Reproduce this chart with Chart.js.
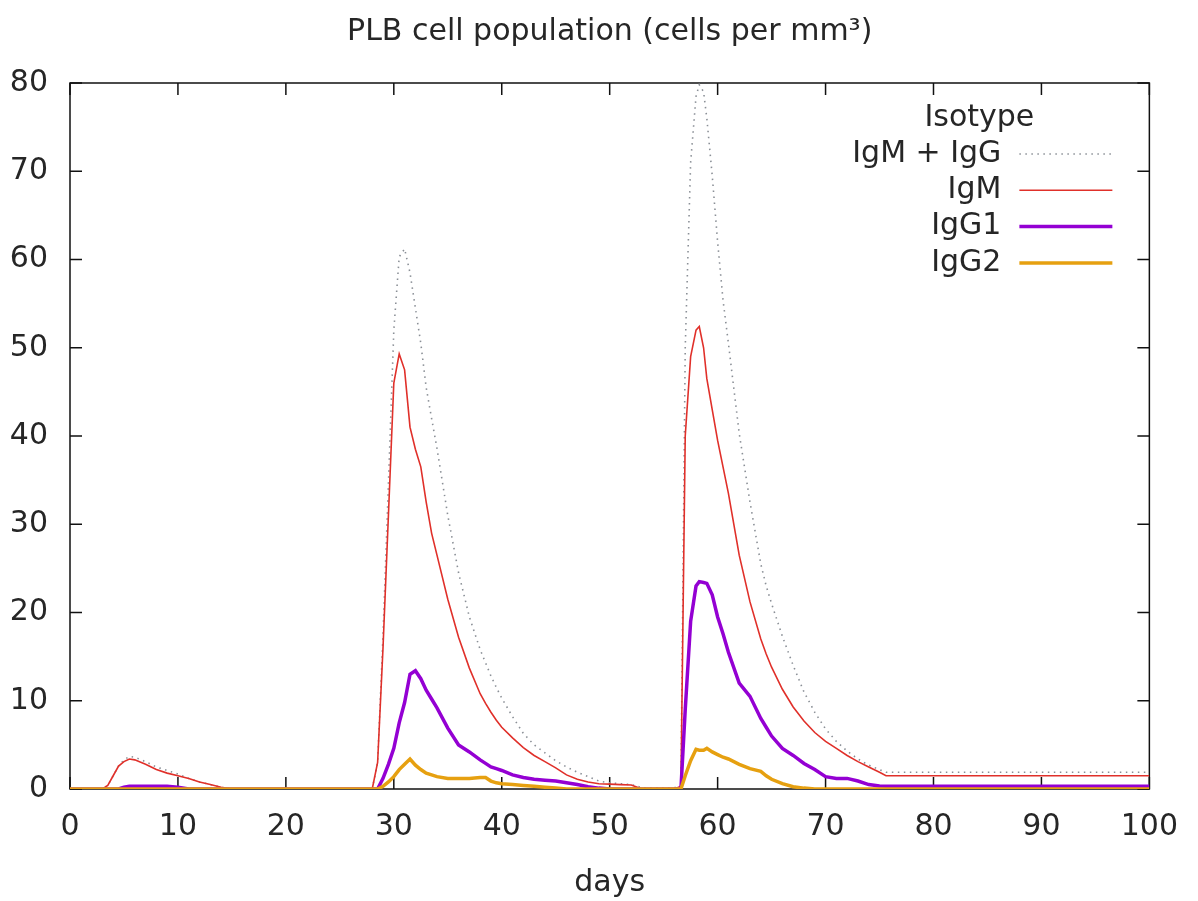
<!DOCTYPE html>
<html>
<head>
<meta charset="utf-8">
<script src="https://cdn.jsdelivr.net/npm/chart.js@4.4.1/dist/chart.umd.min.js"></script>
<style>
  html, body { margin: 0; padding: 0; background: #fff; }
</style>
</head>
<body>
<canvas id="plb" width="1198" height="901"></canvas>
<script>
// days sampled (x), shared by every series
const days = [0, 3, 3.5, 4, 4.5, 5, 5.5, 6, 7, 8, 9, 10, 11, 12, 13, 14, 15,
  28, 28.5, 29, 29.5, 30, 30.5, 31, 31.5, 32, 32.5, 33, 33.5, 34,
  35, 36, 37, 38, 38.5, 39, 39.5, 40,
  41, 42, 43, 44, 45, 46, 47, 48, 49,
  50, 51, 52, 53, 54, 56,
  56.6, 57, 57.5, 58, 58.3, 58.7, 59, 59.5, 60, 60.5, 61,
  62, 63, 64, 64.5, 65, 66, 67, 68, 69, 70,
  71, 72, 73, 74, 75, 75.6, 100];

const igmPlusIgg = [0, 0, 0.4, 1.5, 2.6, 3.3, 3.7, 3.6, 3.1, 2.5, 2.1, 1.7, 1.2, 0.8, 0.5, 0.2, 0,
  0, 3, 17.5, 34.6, 52, 60.3, 61.2, 58.5, 54.5, 50.5, 45.5, 42, 38.6,
  31, 24.5, 19.5, 15.8, 14.3, 12.8, 11.5, 10.3,
  8.2, 6.3, 5.0, 4.1, 3.2, 2.5, 1.9, 1.4, 0.9,
  0.7, 0.6, 0.5, 0.15, 0.15, 0.15,
  0.4, 50, 71, 78.5, 79.8, 79, 76, 69.5, 62, 55.4, 50.5,
  40.3, 32.5, 25.5, 23, 21, 17.3, 14, 11, 8.7, 6.8,
  5.4, 4.3, 3.4, 2.7, 2.2, 1.9, 1.9];

const igm = [0, 0, 0.4, 1.5, 2.6, 3.1, 3.4, 3.3, 2.8, 2.2, 1.8, 1.5, 1.2, 0.8, 0.5, 0.2, 0,
  0, 3, 16, 31, 46, 49.3, 47.5, 41, 38.5, 36.5, 32.5, 29, 26.5,
  21.5, 17.2, 13.7, 10.8, 9.7, 8.7, 7.8, 7.0,
  5.8, 4.7, 3.8, 3.1, 2.4, 1.6, 1.1, 0.8, 0.6,
  0.55, 0.5, 0.45, 0, 0, 0,
  0.3, 40, 49, 52, 52.4, 50, 46.5, 43, 39.5, 36.5, 33.5,
  26.5, 21.2, 17, 15.3, 13.8, 11.3, 9.3, 7.7, 6.4, 5.4,
  4.6, 3.8, 3.1, 2.5, 1.9, 1.5, 1.5];

const igg1 = [0, 0, 0, 0, 0, 0.2, 0.3, 0.3, 0.3, 0.3, 0.3, 0.2, 0, 0, 0, 0, 0,
  0, 0, 1.2, 2.8, 4.6, 7.5, 9.8, 13, 13.4, 12.5, 11.2, 10.2, 9.2,
  6.9, 5.0, 4.2, 3.3, 2.9, 2.5, 2.3, 2.1,
  1.6, 1.3, 1.1, 1.0, 0.9, 0.7, 0.5, 0.25, 0.1,
  0, 0, 0, 0, 0, 0,
  0, 9, 19, 23, 23.5, 23.4, 23.3, 22, 19.5, 17.6, 15.5,
  12, 10.5, 8, 7, 6, 4.6, 3.8, 2.9, 2.2, 1.4,
  1.2, 1.2, 0.9, 0.5, 0.35, 0.3, 0.3];

const igg2 = [0, 0, 0, 0, 0, 0, 0, 0, 0, 0, 0, 0, 0, 0, 0, 0, 0,
  0, 0, 0.3, 0.8, 1.4, 2.2, 2.8, 3.4, 2.7, 2.2, 1.8, 1.6, 1.4,
  1.2, 1.2, 1.2, 1.3, 1.3, 0.9, 0.7, 0.6,
  0.5, 0.4, 0.3, 0.2, 0.1, 0, 0, 0, 0,
  0, 0, 0, 0, 0, 0,
  0, 1.5, 3.2, 4.5, 4.4, 4.4, 4.6, 4.2, 3.9, 3.6, 3.4,
  2.8, 2.3, 2.0, 1.5, 1.1, 0.6, 0.25, 0.1, 0, 0,
  0, 0, 0, 0, 0, 0, 0];

const seriesNames = ['IgM + IgG', 'IgM', 'IgG1', 'IgG2'];
const xTicks = [0, 10, 20, 30, 40, 50, 60, 70, 80, 90, 100];
const yTicks = [0, 10, 20, 30, 40, 50, 60, 70, 80];

Chart.defaults.font.family = '"DejaVu Sans", sans-serif';
Chart.defaults.color = '#262626';

const pts = vals => days.map((d, i) => ({ x: d, y: vals[i] }));

// inward ticks + border box, gnuplot style
const frame = {
  id: 'frame',
  beforeDatasetsDraw(chart) {
    const { ctx, chartArea: a, scales: { x, y } } = chart;
    ctx.save();
    ctx.strokeStyle = '#111';
    ctx.lineWidth = 1.5;
    ctx.strokeRect(a.left, a.top, a.right - a.left, a.bottom - a.top);
    ctx.beginPath();
    x.ticks.forEach(t => {
      const px = x.getPixelForValue(t.value);
      ctx.moveTo(px, a.bottom); ctx.lineTo(px, a.bottom - 12);
      ctx.moveTo(px, a.top); ctx.lineTo(px, a.top + 12);
    });
    y.ticks.forEach(t => {
      const py = y.getPixelForValue(t.value);
      ctx.moveTo(a.left, py); ctx.lineTo(a.left + 12, py);
      ctx.moveTo(a.right, py); ctx.lineTo(a.right - 12, py);
    });
    ctx.stroke();
    ctx.restore();
  }
};

// key in the top right corner: text right aligned, sample line after it
const key = {
  id: 'key',
  afterDatasetsDraw(chart) {
    const { ctx, chartArea: a } = chart;
    const textRight = a.right - 148, lineL = a.right - 130, lineR = a.right - 37;
    ctx.save();
    ctx.font = '30px "DejaVu Sans"';
    ctx.fillStyle = '#262626';
    ctx.textBaseline = 'middle';
    ctx.textAlign = 'center';
    ctx.fillText('Isotype', a.right - 170, a.top + 35);
    ctx.textAlign = 'right';
    chart.data.datasets.forEach((ds, i) => {
      const yy = a.top + 71 + i * 36.3;
      ctx.fillText(ds.label, textRight, yy);
      ctx.beginPath();
      ctx.strokeStyle = ds.borderColor;
      ctx.lineWidth = ds.borderWidth;
      ctx.setLineDash(ds.borderDash || []);
      ctx.moveTo(lineL, yy); ctx.lineTo(lineR, yy);
      ctx.stroke();
    });
    ctx.restore();
  }
};

new Chart(document.getElementById('plb'), {
  type: 'line',
  data: {
    datasets: [
      { label: seriesNames[0], data: pts(igmPlusIgg), borderColor: '#8a8f96', borderWidth: 1.6, borderDash: [1.5, 4.5], order: 4 },
      { label: seriesNames[1], data: pts(igm), borderColor: '#e0302a', borderWidth: 1.6, order: 3 },
      { label: seriesNames[2], data: pts(igg1), borderColor: '#9400d3', borderWidth: 3.5, order: 2 },
      { label: seriesNames[3], data: pts(igg2), borderColor: '#e6a010', borderWidth: 3.5, order: 1 }
    ]
  },
  options: {
    responsive: false,
    animation: false,
    devicePixelRatio: 1,
    layout: { padding: { left: 0, right: 48, top: 0, bottom: 0 } },
    elements: { point: { radius: 0 }, line: { tension: 0, fill: false } },
    plugins: {
      legend: { display: false },
      tooltip: { enabled: false },
      title: {
        display: true,
        fullSize: false,
        text: 'PLB cell population (cells per mm³)',
        font: { size: 30, weight: 'normal' },
        color: '#262626',
        padding: { top: 14, bottom: 33 }
      }
    },
    scales: {
      x: {
        type: 'linear',
        min: xTicks[0],
        max: xTicks[xTicks.length - 1],
        afterBuildTicks: s => { s.ticks = xTicks.map(v => ({ value: v })); },
        afterFit: s => { s.height = 112; },
        grid: { display: false, drawTicks: false },
        border: { display: false },
        ticks: { font: { size: 30 }, color: '#262626', padding: 20, maxRotation: 0 },
        title: { display: true, text: 'days', font: { size: 30 }, color: '#262626', padding: { top: 4, bottom: 0 } }
      },
      y: {
        min: yTicks[0],
        max: yTicks[yTicks.length - 1],
        afterBuildTicks: s => { s.ticks = yTicks.map(v => ({ value: v })); },
        afterFit: s => { s.width = 70; },
        grid: { display: false, drawTicks: false },
        border: { display: false },
        ticks: { font: { size: 30 }, color: '#262626', padding: 22 }
      }
    }
  },
  plugins: [frame, key]
});
</script>
</body>
</html>
